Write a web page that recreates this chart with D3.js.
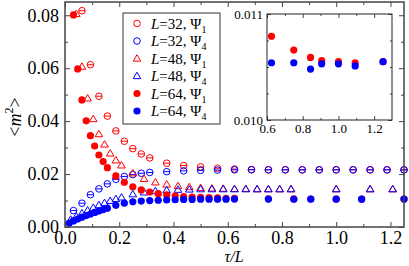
<!DOCTYPE html>
<html>
<head>
<meta charset="utf-8">
<script src="https://d3js.org/d3.v7.min.js"></script>
<style>
  body { margin: 0; background: #fff; }
  svg { display: block; }
  svg text { font-family: "Liberation Serif", "DejaVu Serif", serif; }
</style>
</head>
<body>
<svg></svg>
<script>
// tau values (x = tau / L) and <m^2>
const tau32psi1 = [2,3,4,5,6,7,8,9,10,12,14,16,18,20,22,24,26,28,30,32,34,36,38,40];
const m32psi1 = [0.0817,0.0613,0.0494,0.0419,0.0363,0.0324,0.0296,0.0276,0.0261,0.0241,0.0232,0.0227,0.0222,0.0219,0.0217,0.0216,0.0216,0.0216,0.0216,0.0216,0.0216,0.0216,0.0216,0.0216];
const tau32psi4 = [1,2,3,4,5,6,7,8,9,10,12,14,16,18,20,22,24,26,28,30,32,34,36,38,40];
const m32psi4 = [0.0062,0.0090,0.0122,0.0144,0.0163,0.0180,0.0191,0.0198,0.0203,0.0206,0.0209,0.0212,0.0214,0.0215,0.0216,0.0216,0.0216,0.0216,0.0216,0.0216,0.0216,0.0216,0.0216,0.0216,0.0216];
const tau48psi1 = [2,3,4,5,6,7,8,9,10,12,14,16,18,20,22,24,26,28,30,32,34,36,38,40,48,54,58];
const m48psi1 = [0.0805,0.0606,0.0486,0.0408,0.0351,0.0312,0.0278,0.0252,0.0233,0.0203,0.0182,0.0169,0.0161,0.0155,0.0151,0.0148,0.0146,0.0145,0.0144,0.0144,0.0143,0.0143,0.0143,0.0143,0.0143,0.0143,0.0143];
const tau48psi4 = [1,2,3,4,5,6,7,8,9,10,12,14,16,18,20,22,24,26,28,30,32,34,36,38,40,48,54,58];
const m48psi4 = [0.0028,0.0040,0.0052,0.0063,0.0073,0.0083,0.0091,0.0099,0.0106,0.0112,0.0124,0.0131,0.0136,0.0139,0.0141,0.0142,0.0143,0.0143,0.0143,0.0143,0.0143,0.0143,0.0143,0.0143,0.0143,0.0143,0.0143,0.0143];
const tau64psi1 = [2,3,4,5,6,7,8,9,10,12,14,16,18,20,22,24,26,28,30,32,34,36,38,40,48,54,58,64,70,80];
const m64psi1 = [0.0801,0.0597,0.0480,0.0401,0.0345,0.0306,0.0272,0.0247,0.0224,0.0193,0.0169,0.0152,0.0140,0.0132,0.0126,0.0121,0.0118,0.0115,0.0113,0.0112,0.0111,0.0110,0.01085,0.01079,0.01066,0.01059,0.01056,0.01055,0.01054,0.01055];
const tau64psi4 = [1,2,3,4,5,6,7,8,9,10,12,14,16,18,20,22,24,26,28,30,32,34,36,38,40,48,54,58,64,70,80];
const m64psi4 = [0.0015,0.0023,0.0030,0.0037,0.0043,0.0049,0.0055,0.0060,0.0066,0.0071,0.0082,0.0090,0.0095,0.0098,0.0100,0.0101,0.0102,0.0103,0.0104,0.0104,0.0105,0.0105,0.0105,0.0105,0.01054,0.01054,0.01048,0.01053,0.01053,0.01051,0.01055];

const xTicks = [0, 0.2, 0.4, 0.6, 0.8, 1.0, 1.2];
const xMinor = [0.1, 0.3, 0.5, 0.7, 0.9, 1.1];
const yTicks = [0, 0.02, 0.04, 0.06, 0.08];
const yMinor = [0.01, 0.03, 0.05, 0.07];
const insetXTicks = [0.6, 0.8, 1.0, 1.2];
const insetXMinor = [0.7, 0.9, 1.1];
const insetYTicks = [0.010, 0.011];
const insetYMinor = [0.01025, 0.0105, 0.01075];

const series = [
  { L: 32, psi: "1", tau: tau32psi1, m: m32psi1, color: "#ff0000", shape: "circle" },
  { L: 32, psi: "4", tau: tau32psi4, m: m32psi4, color: "#0000ff", shape: "circle" },
  { L: 48, psi: "1", tau: tau48psi1, m: m48psi1, color: "#ff0000", shape: "triangle" },
  { L: 48, psi: "4", tau: tau48psi4, m: m48psi4, color: "#0000ff", shape: "triangle" },
  { L: 64, psi: "1", tau: tau64psi1, m: m64psi1, color: "#ff0000", shape: "dot" },
  { L: 64, psi: "4", tau: tau64psi4, m: m64psi4, color: "#0000ff", shape: "dot" }
];

const width = 409, height = 266;
const svg = d3.select("svg").attr("width", width).attr("height", height);

const x = d3.scaleLinear().domain([0, 1.25]).range([65, 404]);
const y = d3.scaleLinear().domain([0, 0.085]).range([227, 2]);

// draw one marker
function marker(g, shape, color, cx, cy, bar) {
  if (shape === "dot") {
    g.append("circle").attr("cx", cx).attr("cy", cy).attr("r", 3.6).attr("fill", color);
  } else if (shape === "circle") {
    g.append("circle").attr("cx", cx).attr("cy", cy).attr("r", 3.3)
      .attr("fill", "none").attr("stroke", color).attr("stroke-width", 1);
    if (bar) {
      g.append("line").attr("x1", cx - 3.3).attr("x2", cx + 3.3).attr("y1", cy).attr("y2", cy)
        .attr("stroke", color).attr("stroke-width", 1);
    }
  } else {
    const s = 3.8;
    g.append("path")
      .attr("d", `M${cx},${cy - s}L${cx + s},${cy + s * 0.7}L${cx - s},${cy + s * 0.7}Z`)
      .attr("fill", "none").attr("stroke", color).attr("stroke-width", 1);
  }
}

// axes with inward ticks on all four sides
function axes(g, xs, ys, xt, xm, yt, ym, big, small, xFmt, yFmt, fs, pad) {
  const y0 = ys.range()[0], y1 = ys.range()[1];
  const x0 = xs.range()[0], x1 = xs.range()[1];
  const list = [
    [d3.axisBottom(xs).tickValues(xt).tickSize(-big).tickPadding(pad.x).tickFormat(xFmt), `translate(0,${y0})`],
    [d3.axisBottom(xs).tickValues(xm).tickSize(-small).tickFormat(""), `translate(0,${y0})`],
    [d3.axisTop(xs).tickValues(xt).tickSize(-big).tickFormat(""), `translate(0,${y1})`],
    [d3.axisTop(xs).tickValues(xm).tickSize(-small).tickFormat(""), `translate(0,${y1})`],
    [d3.axisLeft(ys).tickValues(yt).tickSize(-big).tickPadding(pad.y).tickFormat(yFmt), `translate(${x0},0)`],
    [d3.axisLeft(ys).tickValues(ym).tickSize(-small).tickFormat(""), `translate(${x0},0)`],
    [d3.axisRight(ys).tickValues(yt).tickSize(-big).tickFormat(""), `translate(${x1},0)`],
    [d3.axisRight(ys).tickValues(ym).tickSize(-small).tickFormat(""), `translate(${x1},0)`]
  ];
  list.forEach(([ax, tr]) => {
    const a = g.append("g").attr("transform", tr).call(ax);
    a.attr("font-family", "Liberation Serif").attr("font-size", fs);
    a.select(".domain").remove();
    a.selectAll("line").attr("stroke", "#444").attr("stroke-width", 1);
    a.selectAll("text").attr("fill", "#000");
  });
  g.append("rect").attr("class", "frame").attr("x", x0).attr("y", y1)
    .attr("width", x1 - x0).attr("height", y0 - y1)
    .attr("fill", "none").attr("stroke", "#444").attr("stroke-width", 1.5);
}

// data
const plot = svg.append("g");
series.forEach(s => {
  s.tau.forEach((t, i) => {
    marker(plot, s.shape, s.color, x(t / s.L), y(s.m[i]), true);
  });
});

axes(svg, x, y, xTicks, xMinor, yTicks, yMinor, 5, 3, d3.format(".1f"), d3.format(".2f"), 18, { x: 4, y: 6 });

// axis titles
svg.append("text")
  .attr("transform", "translate(21,117) rotate(-90)")
  .attr("text-anchor", "middle")
  .attr("font-size", 18)
  .call(t => {
    t.append("tspan").text("<");
    t.append("tspan").attr("font-style", "italic").text("m");
    t.append("tspan").attr("font-size", 12).attr("dy", -8).text("2");
    t.append("tspan").attr("dy", 8).text(">");
  });

svg.append("text")
  .attr("x", 234).attr("y", 262)
  .attr("text-anchor", "middle")
  .attr("font-size", 16)
  .attr("font-style", "italic")
  .text("τ/L");

// legend
const legend = svg.append("g");
legend.append("rect").attr("x", 123).attr("y", 13).attr("width", 97).attr("height", 111)
  .attr("fill", "#fff").attr("stroke", "#333").attr("stroke-width", 1);
series.forEach((s, i) => {
  const ry = 23.5 + i * 17.5;
  marker(legend, s.shape, s.color, 137, ry, false);
  const t = legend.append("text").attr("x", 151).attr("y", ry + 5).attr("font-size", 15);
  t.append("tspan").attr("font-style", "italic").text("L");
  t.append("tspan").text(`=${s.L}, Ψ`);
  t.append("tspan").attr("font-size", 10).attr("dy", 4).text(s.psi);
});

// inset
const xi = d3.scaleLinear().domain([0.6, 1.3]).range([267, 392]);
const yi = d3.scaleLinear().domain([0.010, 0.011]).range([120, 14]);
const inset = svg.append("g");
inset.append("rect").attr("x", 267).attr("y", 14).attr("width", 125).attr("height", 106).attr("fill", "#fff");
series.filter(s => s.shape === "dot").forEach(s => {
  s.tau.forEach((t, i) => {
    const v = t / s.L;
    if (v >= 0.6) marker(inset, "dot", s.color, xi(v), yi(s.m[i]), false);
  });
});
axes(inset, xi, yi, insetXTicks, insetXMinor, insetYTicks, insetYMinor, 4, 2,
  d3.format(".1f"), d3.format(".3f"), 13, { x: 4, y: 4 });
inset.select(".frame").attr("stroke", "#222").attr("stroke-width", 1);
</script>
</body>
</html>
